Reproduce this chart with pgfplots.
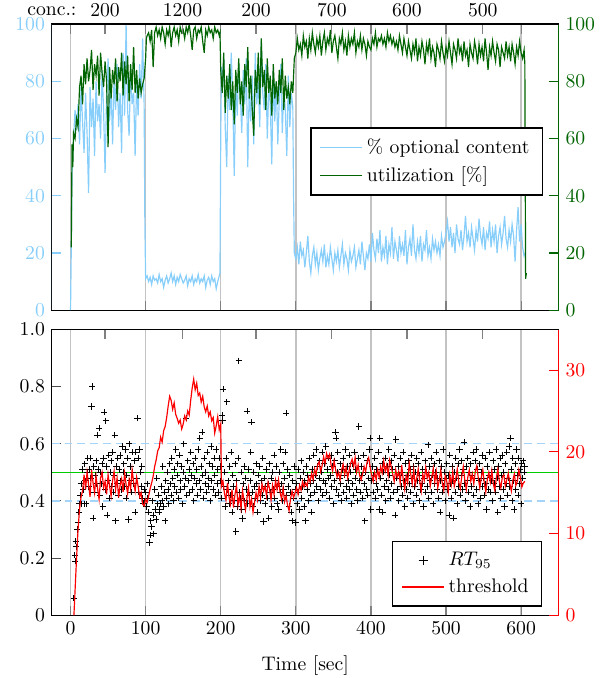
\documentclass[border=0pt]{standalone}
\usepackage{pgfplots}
\pgfplotsset{compat=1.18}
\definecolor{cblue}{RGB}{135,206,250}
\definecolor{cgreen}{RGB}{0,100,0}
\definecolor{cgrid}{RGB}{195,195,195}
\definecolor{cdash}{RGB}{165,212,250}
\pgfplotsset{
  base/.style={scale only axis, width=258pt, height=145.6pt, xmin=-25, xmax=650,
    axis line style={line width=0.7pt}, tick align=inside,
    major tick length=4.8pt},
  legbox/.style={legend style={line width=0.7pt, font=\normalsize, inner xsep=4.5pt, inner ysep=3.5pt, row sep=1.2pt},
    legend cell align=left},
}
\begin{document}
\begin{tikzpicture}
% ================= TOP PANEL =================
\begin{axis}[base, at={(0pt,155.3pt)}, ymin=0, ymax=100,
  ytick={0,20,40,60,80,100}, ytick pos=left,
  yticklabel style={cblue, inner ysep=0.5pt}, y tick style={cblue, line width=0.6pt},
  xtick={0,100,200,300,400,500,600}, xticklabels={},
  x tick style={black!50, line width=0.6pt},
  xmajorgrids, major grid style={cgrid, line width=0.7pt}]
\addplot[color=cblue, line width=0.6pt] coordinates {
(0,0)(1,22)(2,48)(4,60)(6,70)(8,63)(10,72)(12,58)(14,78)(16,66)(18,55)(20,76)(22,62)(24,41)(26,78)(28,64)(30,74)(32,54)(34,80)(36,66)(38,72)(40,60)(42,84)(44,70)(46,48)(48,75)(50,88)(52,66)(54,78)(56,58)(58,82)(60,70)(62,86)(64,64)(66,76)(68,55)(70,90)(72,68)(74,100)(76,70)(78,61)(80,84)(82,72)(84,76)(86,54)(88,80)(90,68)(92,86)(94,74)(96,95)(98,72)(99,30)(100,11)
(102,12)(104,10)(106,11.5)(108,9)(110,12)(112,10.5)(114,11)(116,9.5)(118,12.5)(120,10)(122,11)(124,8)(126,10.5)(128,12)(130,9.5)(132,11)(134,13)(136,10)(138,12)(140,9)(142,11.5)(144,10)(146,12.5)(148,11)(150,9.5)(152,10.5)(154,12)(156,8.5)(158,11)(160,10)(162,12)(164,9)(166,11)(168,10)(170,12.5)(172,9.5)(174,11)(176,10)(178,12)(180,8)(182,10.5)(184,11.5)(186,9)(188,12)(190,10)(192,11)(194,7.5)(196,10)(198,12)(199,13)(200,60)(201,85)
(202,78)(204,88)(206,64)(208,50)(210,82)(212,70)(214,90)(216,74)(218,47)(220,80)(222,68)(224,86)(226,76)(228,62)(230,84)(232,72)(234,88)(236,50)(238,78)(240,66)(242,82)(244,58)(246,90)(248,72)(250,80)(252,64)(254,94)(256,76)(258,70)(260,86)(262,60)(264,78)(266,72)(268,51)(270,84)(272,66)(274,80)(276,58)(278,74)(280,86)(282,62)(284,78)(286,70)(288,54)(290,82)(292,64)(294,76)(296,71)(297,40)(298,20)
(300,18)(302,22)(304,16)(306,24)(308,19)(310,21)(312,15)(314,20)(316,26)(318,17)(320,13)(322,19)(324,22)(326,16)(328,20)(330,14)(332,18)(334,21)(336,17)(338,23)(340,15)(342,19)(344,16)(346,22)(348,18)(350,14)(352,20)(354,17)(356,21)(358,15)(360,19)(362,23)(364,16)(366,20)(368,18)(370,14)(372,21)(374,17)(376,19)(378,22)(380,15)(382,18)(384,21)(386,16)(388,24)(390,19)(392,14)(394,20)(396,18)(398,23)(400,17)
(402,27)(404,21)(406,18)(408,25)(410,20)(412,28)(414,17)(416,22)(418,19)(420,26)(422,16)(424,23)(426,20)(428,29)(430,18)(432,24)(434,21)(436,17)(438,26)(440,20)(442,23)(444,19)(446,28)(448,16)(450,22)(452,25)(454,19)(456,30)(458,21)(460,18)(462,24)(464,20)(466,26)(468,17)(470,23)(472,21)(474,28)(476,19)(478,22)(480,18)(482,25)(484,21)(486,24)(488,20)(490,23)(492,19)(494,26)(496,22)(498,24)(500,27)
(502,31)(504,24)(506,29)(508,22)(510,27)(512,20)(514,30)(516,25)(518,23)(520,28)(522,21)(524,26)(526,33)(528,24)(530,27)(532,22)(534,29)(536,25)(538,21)(540,28)(542,24)(544,32)(546,26)(548,23)(550,29)(552,21)(554,27)(556,25)(558,31)(560,22)(562,28)(564,24)(566,30)(568,20)(570,26)(572,29)(574,23)(576,27)(578,33)(580,25)(582,22)(584,28)(586,24)(588,30)(590,26)(592,17)(594,28)(596,36)(598,24)(600,30)(602,22)(604,19)(605,20)
};
\draw[cblue, line width=0.7pt] (rel axis cs:0,0) -- (rel axis cs:0,1);
\end{axis}
\begin{axis}[base, at={(0pt,155.3pt)}, ymin=0, ymax=100,
  axis y line*=right, axis x line=none, y axis line style={cgreen,-},
  ytick={0,20,40,60,80,100}, yticklabel style={cgreen}, y tick style={cgreen, line width=0.6pt},
  legbox, legend style={at={(0.969,0.52)}, anchor=east},
  legend image code/.code={\draw[mark repeat=2,mark phase=2,#1] plot coordinates {(0cm,0cm) (0.375cm,0cm) (0.75cm,0cm)};}]
\addlegendimage{color=cblue, line width=0.6pt}
\addlegendentry{\% optional content}
\addplot[color=cgreen, line width=0.6pt] coordinates {
(1,22)(2,58)(3,50)(4,62)(6,60)(8,67)(10,64)(12,78)(14,82)(16,72)(18,86)(20,79)(22,88)(24,80)(26,84)(28,91)(30,77)(32,86)(34,82)(36,89)(38,75)(40,90)(42,83)(44,78)(46,87)(48,80)(50,57)(52,85)(54,74)(56,84)(58,79)(60,88)(62,73)(64,85)(66,80)(68,90)(70,75)(72,87)(74,79)(76,89)(78,73)(80,86)(82,77)(84,92)(86,76)(88,84)(90,74)(92,81)(94,76)(96,79)(98,81)(100,88)(101,95)
(102,96)(104,97)(106,94)(108,98)(110,85)(112,97)(114,99)(116,96)(118,98)(120,95)(122,99)(124,97)(126,93)(128,98)(130,96)(132,99)(134,92)(136,97)(138,99)(140,96)(142,98)(144,94)(146,99)(148,97)(150,98)(152,95)(154,99)(156,97)(158,100)(160,96)(162,91)(164,98)(166,99)(168,95)(170,98)(172,97)(174,99)(176,94)(178,90)(180,98)(182,96)(184,99)(186,97)(188,98)(190,95)(192,99)(194,97)(196,98)(198,96)(199,97)
(200,84)(202,76)(204,90)(206,69)(208,82)(210,74)(212,86)(214,70)(216,80)(218,65)(220,84)(222,76)(224,88)(226,72)(228,80)(230,68)(232,86)(234,78)(236,92)(238,74)(240,82)(242,70)(244,61)(246,84)(248,76)(250,90)(252,72)(254,95)(256,78)(258,84)(260,70)(262,88)(264,76)(266,82)(268,68)(270,86)(272,74)(274,80)(276,72)(278,84)(280,76)(282,88)(284,70)(286,82)(288,74)(290,78)(292,72)(294,80)(296,76)(298,88)(300,90)
(302,95)(304,91)(306,93)(308,89)(310,96)(312,92)(314,94)(316,88)(318,95)(320,91)(322,97)(324,93)(326,90)(328,95)(330,92)(332,96)(334,89)(336,94)(338,97)(340,91)(342,95)(344,93)(346,98)(348,90)(350,94)(352,96)(354,92)(356,88)(358,95)(360,93)(362,97)(364,91)(366,94)(368,89)(370,96)(372,92)(374,95)(376,93)(378,97)(380,90)(382,94)(384,92)(386,96)(388,91)(390,95)(392,93)(394,89)(396,94)(398,92)(400,91)
(402,95)(404,93)(406,97)(408,92)(410,95)(412,94)(414,96)(416,93)(418,95)(420,92)(422,97)(424,94)(426,96)(428,93)(430,95)(432,92)(434,94)(436,91)(438,96)(440,93)(442,90)(444,95)(446,92)(448,89)(450,94)(452,91)(454,88)(456,93)(458,90)(460,95)(462,87)(464,92)(466,89)(468,94)(470,91)(472,86)(474,93)(476,90)(478,95)(480,88)(482,92)(484,90)(486,85)(488,93)(490,91)(492,88)(494,94)(496,90)(498,87)(500,92)
(502,89)(504,94)(506,90)(508,86)(510,93)(512,91)(514,88)(516,95)(518,90)(520,92)(522,87)(524,94)(526,89)(528,91)(530,85)(532,93)(534,90)(536,88)(538,94)(540,91)(542,86)(544,93)(546,89)(548,92)(550,87)(552,95)(554,90)(556,84)(558,92)(560,89)(562,94)(564,90)(566,87)(568,93)(570,91)(572,85)(574,92)(576,90)(578,88)(580,94)(582,89)(584,92)(586,87)(588,93)(590,90)(592,86)(594,92)(596,89)(598,94)(600,90)(602,88)(604,91)(605,86)(606,11)(607,13)
};
\addlegendentry{utilization [\%]}
\end{axis}
\begin{axis}[base, at={(0pt,155.3pt)}, ymin=0, ymax=1, clip=false,
  axis x line*=top, axis y line=none, x axis line style={-},
  xtick={46,149,247,348,448,549},
  xticklabels={200,1200,200,700,600,500},
  x tick style={black!50, line width=0.6pt}]
\node[anchor=base east, inner sep=0pt] at (axis cs:8.4,1) {\raisebox{4.5pt}{conc.:}};
\end{axis}
% ================= BOTTOM PANEL =================
\begin{axis}[base, ymin=0, ymax=1,
  ytick={0,0.2,0.4,0.6,0.8,1}, yticklabels={0,0.2,0.4,0.6,0.8,1.0}, ytick pos=left,
  y tick style={black!70, line width=0.6pt},
  xtick={0,100,200,300,400,500,600}, xtick pos=bottom,
  x tick style={black!50, line width=0.6pt},
  xmajorgrids, major grid style={cgrid, line width=0.7pt},
  xlabel={Time [sec]}, xlabel style={yshift=-3.5pt}]
\addplot[color=cdash, line width=0.7pt, dash pattern=on 4pt off 2.5pt] coordinates {(-25,0.4)(650,0.4)};
\addplot[color=cdash, line width=0.7pt, dash pattern=on 4pt off 2.5pt] coordinates {(-25,0.6)(650,0.6)};
\addplot[color=green!80!black, line width=0.8pt] coordinates {(-25,0.5)(650,0.5)};
\addplot[only marks, mark=+, mark size=1.6pt, color=black, mark options={line width=0.45pt}] coordinates {
(4.5,0.06)(5.5,0.21)(6,0.19)(7,0.26)(7.5,0.24)(9,0.30)(10,0.325)(11,0.36)(12,0.39)(13,0.42)(14,0.46)(15,0.39)(16,0.51)(17,0.44)(18,0.39)(19,0.53)(20,0.47)(21,0.39)(22,0.50)(23,0.55)(24,0.45)(25,0.51)(26,0.55)(27,0.48)(28,0.73)(29,0.80)(30,0.34)(31,0.52)(32,0.43)(33,0.49)(34,0.54)(35,0.46)(36,0.63)(37,0.51)(38,0.655)(39,0.42)(40,0.50)(41,0.46)(42,0.53)(43,0.38)(44,0.55)(45,0.71)(46,0.44)(47,0.68)(48,0.52)(49,0.35)(50,0.47)(51,0.56)(52,0.41)(53,0.50)(54,0.54)(55,0.45)(56,0.57)(57,0.43)(58,0.49)(59,0.63)(60,0.33)(61,0.52)(62,0.46)(63,0.55)(64,0.42)(65,0.51)(66,0.56)(67,0.47)(68,0.44)(69,0.59)(70,0.50)(71,0.53)(72,0.45)(73,0.58)(74,0.41)(75,0.49)(76,0.55)(77,0.335)(78,0.60)(79,0.47)(80,0.52)(81,0.43)(82,0.57)(83,0.50)(84,0.46)(85,0.54)(86,0.36)(87,0.57)(88,0.48)(89,0.69)(90,0.55)(91,0.43)(92,0.58)(93,0.50)(94,0.45)(95,0.52)(96,0.41)(97,0.39)(98,0.44)(99,0.40)
(100,0.43)(101,0.38)(102,0.46)(103,0.41)(104,0.36)(105,0.255)(106,0.28)(107,0.33)(108,0.31)(109,0.40)(110,0.35)(111,0.285)(112,0.44)(113,0.37)(114,0.335)(115,0.48)(116,0.39)(117,0.42)(118,0.36)(119,0.37)(120,0.39)(121,0.45)(122,0.40)(123,0.52)(124,0.38)(125,0.43)(126,0.33)(127,0.47)(128,0.41)(129,0.50)(130,0.44)(131,0.39)(132,0.53)(133,0.46)(134,0.42)(135,0.55)(136,0.48)(137,0.40)(138,0.51)(139,0.45)(140,0.58)(141,0.43)(142,0.49)(143,0.53)(144,0.41)(145,0.56)(146,0.47)(147,0.44)(148,0.52)(149,0.39)(150,0.50)(151,0.60)(152,0.45)(153,0.48)(154,0.69)(155,0.42)(156,0.54)(157,0.47)(158,0.51)(159,0.43)(160,0.57)(161,0.49)(162,0.44)(163,0.53)(164,0.40)(165,0.48)(166,0.55)(167,0.46)(168,0.51)(169,0.42)(170,0.58)(171,0.47)(172,0.62)(173,0.44)(174,0.52)(175,0.64)(176,0.49)(177,0.41)(178,0.55)(179,0.46)(180,0.50)(181,0.43)(182,0.57)(183,0.48)(184,0.45)(185,0.53)(186,0.40)(187,0.59)(188,0.47)(189,0.52)(190,0.44)(191,0.55)(192,0.49)(193,0.42)(194,0.58)(195,0.46)(196,0.51)(197,0.43)(198,0.55)(199,0.47)
(200,0.52)(201,0.41)(202,0.70)(202.5,0.68)(203,0.79)(204,0.45)(205,0.50)(206,0.38)(207,0.55)(208,0.747)(209,0.44)(210,0.47)(211,0.39)(212,0.52)(213,0.42)(214,0.57)(215,0.36)(216,0.49)(217,0.45)(218,0.40)(219,0.53)(220,0.293)(221,0.47)(222,0.38)(223,0.55)(224,0.89)(225,0.43)(226,0.41)(227,0.50)(228,0.37)(229,0.338)(230,0.46)(231,0.52)(232,0.40)(233,0.48)(234,0.44)(235,0.714)(236,0.39)(237,0.51)(238,0.42)(239,0.47)(240,0.57)(241,0.676)(242,0.43)(243,0.38)(244,0.50)(245,0.45)(246,0.41)(247,0.53)(248,0.46)(249,0.36)(250,0.49)(251,0.44)(252,0.52)(253,0.40)(254,0.47)(255,0.42)(256,0.55)(257,0.328)(258,0.48)(259,0.39)(260,0.45)(261,0.51)(262,0.41)(263,0.46)(264,0.34)(265,0.53)(266,0.43)(267,0.48)(268,0.38)(269,0.50)(270,0.44)(271,0.56)(272,0.41)(273,0.47)(274,0.52)(275,0.39)(276,0.45)(277,0.37)(278,0.50)(279,0.43)(280,0.58)(281,0.46)(282,0.40)(283,0.53)(284,0.44)(285,0.48)(286,0.57)(287,0.707)(288,0.42)(289,0.51)(290,0.45)(291,0.38)(292,0.49)(293,0.43)(294,0.36)(295,0.33)(296,0.47)(297,0.41)(298,0.52)(299,0.44)
(300,0.325)(301,0.46)(302,0.39)(303,0.51)(304,0.43)(305,0.37)(306,0.48)(307,0.54)(308,0.41)(309,0.45)(310,0.50)(311,0.38)(312,0.47)(313,0.33)(314,0.52)(315,0.44)(316,0.49)(317,0.40)(318,0.55)(319,0.46)(320,0.42)(321,0.36)(322,0.51)(323,0.47)(324,0.56)(325,0.43)(326,0.49)(327,0.58)(328,0.45)(329,0.52)(330,0.40)(331,0.48)(332,0.54)(333,0.44)(334,0.50)(335,0.57)(336,0.42)(337,0.47)(338,0.53)(339,0.46)(340,0.59)(341,0.43)(342,0.51)(343,0.48)(344,0.55)(345,0.41)(346,0.49)(347,0.56)(348,0.45)(349,0.52)(350,0.39)(351,0.47)(352,0.54)(353,0.64)(353.5,0.62)(354,0.44)(355,0.50)(356,0.57)(357,0.42)(358,0.48)(359,0.53)(360,0.46)(361,0.40)(362,0.51)(363,0.55)(364,0.43)(365,0.49)(366,0.58)(367,0.45)(368,0.41)(369,0.52)(370,0.47)(371,0.56)(372,0.44)(373,0.50)(374,0.39)(375,0.53)(376,0.46)(377,0.42)(378,0.57)(379,0.48)(380,0.51)(381,0.44)(382,0.40)(383,0.55)(384,0.66)(385,0.47)(386,0.43)(387,0.52)(388,0.49)(389,0.41)(390,0.56)(391,0.46)(392,0.33)(393,0.50)(394,0.44)(395,0.54)(396,0.42)(397,0.48)(398,0.58)(399,0.62)(400,0.37)
(401,0.47)(402,0.52)(403,0.43)(404,0.49)(405,0.55)(406,0.41)(407,0.46)(408,0.51)(409,0.44)(410,0.57)(411,0.37)(412,0.62)(413,0.48)(414,0.42)(415,0.53)(416,0.36)(417,0.50)(418,0.45)(419,0.55)(420,0.40)(421,0.47)(422,0.52)(423,0.44)(424,0.58)(425,0.49)(426,0.41)(427,0.54)(428,0.46)(429,0.51)(430,0.43)(431,0.56)(432,0.35)(433,0.615)(434,0.48)(435,0.44)(436,0.52)(437,0.40)(438,0.49)(439,0.55)(440,0.45)(441,0.50)(442,0.42)(443,0.57)(444,0.47)(445,0.38)(446,0.53)(447,0.44)(448,0.49)(449,0.41)(450,0.54)(451,0.46)(452,0.51)(453,0.43)(454,0.56)(455,0.48)(456,0.39)(457,0.52)(458,0.45)(459,0.50)(460,0.42)(461,0.55)(462,0.47)(463,0.53)(464,0.40)(465,0.49)(466,0.44)(467,0.57)(468,0.46)(469,0.51)(470,0.38)(471,0.48)(472,0.54)(473,0.43)(474,0.50)(475,0.45)(476,0.596)(477,0.41)(478,0.52)(479,0.47)(480,0.55)(481,0.43)(482,0.49)(483,0.39)(484,0.53)(485,0.46)(486,0.50)(487,0.57)(488,0.44)(489,0.48)(490,0.41)(491,0.54)(492,0.36)(493,0.47)(494,0.52)(495,0.43)(496,0.58)(497,0.45)(498,0.50)(499,0.40)(500,0.48)
(501,0.53)(502,0.44)(503,0.49)(504,0.35)(505,0.56)(506,0.46)(507,0.41)(508,0.52)(509,0.47)(510,0.34)(511,0.50)(512,0.43)(513,0.55)(514,0.48)(515,0.39)(516,0.53)(517,0.45)(518,0.58)(519,0.42)(520,0.49)(521,0.54)(522,0.44)(523,0.51)(524,0.606)(525,0.46)(526,0.40)(527,0.52)(528,0.47)(529,0.55)(530,0.43)(531,0.50)(532,0.38)(533,0.53)(534,0.45)(535,0.49)(536,0.57)(537,0.42)(538,0.48)(539,0.54)(540,0.58)(541,0.44)(542,0.51)(543,0.39)(544,0.47)(545,0.53)(546,0.41)(547,0.50)(548,0.56)(549,0.45)(550,0.48)(551,0.42)(552,0.55)(553,0.46)(554,0.37)(555,0.52)(556,0.44)(557,0.49)(558,0.57)(559,0.43)(560,0.50)(561,0.47)(562,0.40)(563,0.54)(564,0.46)(565,0.51)(566,0.43)(567,0.58)(568,0.48)(569,0.36)(570,0.52)(571,0.45)(572,0.55)(573,0.41)(574,0.49)(575,0.56)(576,0.44)(577,0.50)(578,0.38)(579,0.53)(580,0.46)(581,0.57)(582,0.42)(583,0.48)(584,0.59)(585,0.45)(586,0.619)(587,0.51)(588,0.40)(589,0.55)(590,0.47)(591,0.37)(592,0.53)(593,0.44)(594,0.58)(595,0.49)(596,0.42)(597,0.55)(598,0.46)(599,0.51)(600,0.39)(601,0.53)(602,0.48)(603,0.54)(604,0.50)(605,0.52)
};
\end{axis}
\begin{axis}[base, ymin=0, ymax=35,
  axis y line*=right, axis x line=none, y axis line style={red,-},
  ytick={0,10,20,30}, yticklabel style={red}, y tick style={red, line width=0.6pt},
  legbox, legend style={at={(0.967,0.03)}, anchor=south east},
  legend image code/.code={\draw[mark repeat=2,mark phase=2,#1] plot coordinates {(0cm,0cm) (0.375cm,0cm) (0.75cm,0cm)};}]
\addlegendimage{only marks, mark=+, color=black, mark size=2.3pt, mark options={line width=0.5pt}}
\addlegendentry{$RT_{95}$}
\addplot[color=red, line width=0.6pt] coordinates {
(4.5,0)(6,3)(8,7)(10,10.5)(12,13)(14,14.5)(16,15.2)(18,17.2)(20,15.4)(22,17.5)(24,16)(26,14.5)(28,17.8)(30,16.2)(32,15)(34,17)(36,15.5)(38,14.2)(40,16.8)(42,17.5)(44,15.6)(46,16.4)(48,14.8)(50,17.2)(52,15.8)(54,14.6)(56,16.5)(58,17.6)(60,15.4)(62,16.8)(64,14.4)(66,15.9)(68,16.7)(70,15.1)(72,17.4)(74,16)(76,14.9)(78,16.6)(80,15.5)(82,17.8)(84,16.3)(86,15.2)(88,16.9)(90,15.8)(92,14.5)(94,15)(96,13.6)(98,13.4)(100,14.2)
(102,13.8)(104,14.6)(106,15.5)(108,16.2)(110,17)(112,18.2)(114,19)(116,20.1)(118,20.5)(120,21.8)(122,21.2)(124,22.6)(126,23.1)(128,24.2)(130,25.6)(132,26.8)(134,26.3)(136,25.2)(138,26)(140,24.6)(142,24.1)(144,23.5)(146,23.9)(148,22.8)(150,23.4)(152,24.4)(154,23.9)(156,25)(158,24.5)(160,26.3)(162,27.8)(164,28.9)(166,27.6)(168,28.4)(170,26.9)(172,27.2)(174,26.1)(176,26.8)(178,25.5)(180,24.9)(182,25.6)(184,24.4)(186,24.9)(188,23.8)(190,24.2)(192,22.3)(194,23.2)(196,24.3)(198,22.7)(200,23.4)
(201,15.8)(203,16.4)(205,14.9)(207,14.1)(209,16.2)(211,14.5)(213,13.6)(215,15.4)(217,13.2)(219,14.8)(221,15.9)(223,13.5)(225,14.6)(227,13.1)(229,15.3)(231,14)(233,12.9)(235,14.4)(237,15.6)(239,13.3)(241,14.2)(243,12.6)(245,13.8)(247,15)(249,14.1)(251,15.7)(253,14.4)(255,16.1)(257,15.2)(259,15.8)(261,14.6)(263,16.3)(265,15.5)(267,14.1)(269,15.9)(271,14.8)(273,16.5)(275,15.4)(277,16.6)(279,15.1)(281,14.2)(283,15.6)(285,13.9)(287,14.6)(289,13.5)(291,12.8)(293,14.3)(295,15.2)(297,14.4)(299,15)
(301,15.6)(303,14.8)(305,15.9)(307,15.3)(309,16.4)(311,15.7)(313,16.2)(315,15.8)(317,16.9)(319,16.3)(321,17.4)(323,16.6)(325,17.9)(327,17.2)(329,18.4)(331,18.8)(333,17.6)(335,18.3)(337,19.4)(339,18.6)(341,19.8)(343,19.2)(345,19.7)(347,18.4)(349,17.6)(351,18.9)(353,17.8)(355,16.9)(357,17.5)(359,16.6)(361,17.8)(363,18.5)(365,17.2)(367,18.1)(369,16.8)(371,17.7)(373,18.6)(375,19.1)(377,18.2)(379,19.3)(381,17.5)(383,18.4)(385,17.1)(387,16.6)(389,17.3)(391,18.2)(393,17.6)(395,18.8)(397,19.3)(399,18.1)
(401,17.2)(403,16.4)(405,17.5)(407,16.6)(409,17.8)(411,16.9)(413,18.2)(415,17.4)(417,18.9)(419,17.6)(421,18.4)(423,17.1)(425,19)(427,18.2)(429,17.3)(431,16.4)(433,17.8)(435,16.9)(437,17.6)(439,16.2)(441,18.4)(443,16.6)(445,15.4)(447,17.1)(449,16.2)(451,18.6)(453,17.3)(455,16.1)(457,17.8)(459,15.9)(461,16.8)(463,17.9)(465,16.4)(467,15.2)(469,17.3)(471,16.5)(473,18.1)(475,16.8)(477,17.5)(479,15.8)(481,16.9)(483,18)(485,16.3)(487,17.6)(489,15.6)(491,16.5)(493,17.8)(495,16.2)(497,15.3)(499,17.1)
(501,16.4)(503,15.1)(505,17.2)(507,16)(509,17.6)(511,15.8)(513,16.7)(515,17.9)(517,16.3)(519,15.5)(521,17)(523,18.2)(525,16.6)(527,15.4)(529,16.9)(531,17.8)(533,16.4)(535,17.3)(537,16.1)(539,17.6)(541,18.3)(543,16.8)(545,15.6)(547,16.9)(549,17.8)(551,16.2)(553,15.1)(555,16.6)(557,17.5)(559,16.3)(561,17.7)(563,16.1)(565,15.3)(567,16.8)(569,17.9)(571,16.4)(573,15.6)(575,16.9)(577,17.2)(579,15.8)(581,16.6)(583,17.4)(585,16.1)(587,15.2)(589,16.5)(591,17.3)(593,15.9)(595,16.4)(597,17.8)(599,16.9)(601,15.7)(603,16.2)(605,16.4)
};
\addlegendentry{threshold}
\end{axis}
\begin{axis}[base, ymin=0, ymax=1,
  axis x line*=top, axis y line=none, x axis line style={-},
  xtick={46,149,247,348,448,549}, xticklabels={},
  x tick style={black!50, line width=0.6pt}]
\end{axis}
\pgfresetboundingbox
\path[use as bounding box] (-26.35pt,-31.9pt) rectangle (280.3pt,313.2pt);
\end{tikzpicture}
\end{document}
